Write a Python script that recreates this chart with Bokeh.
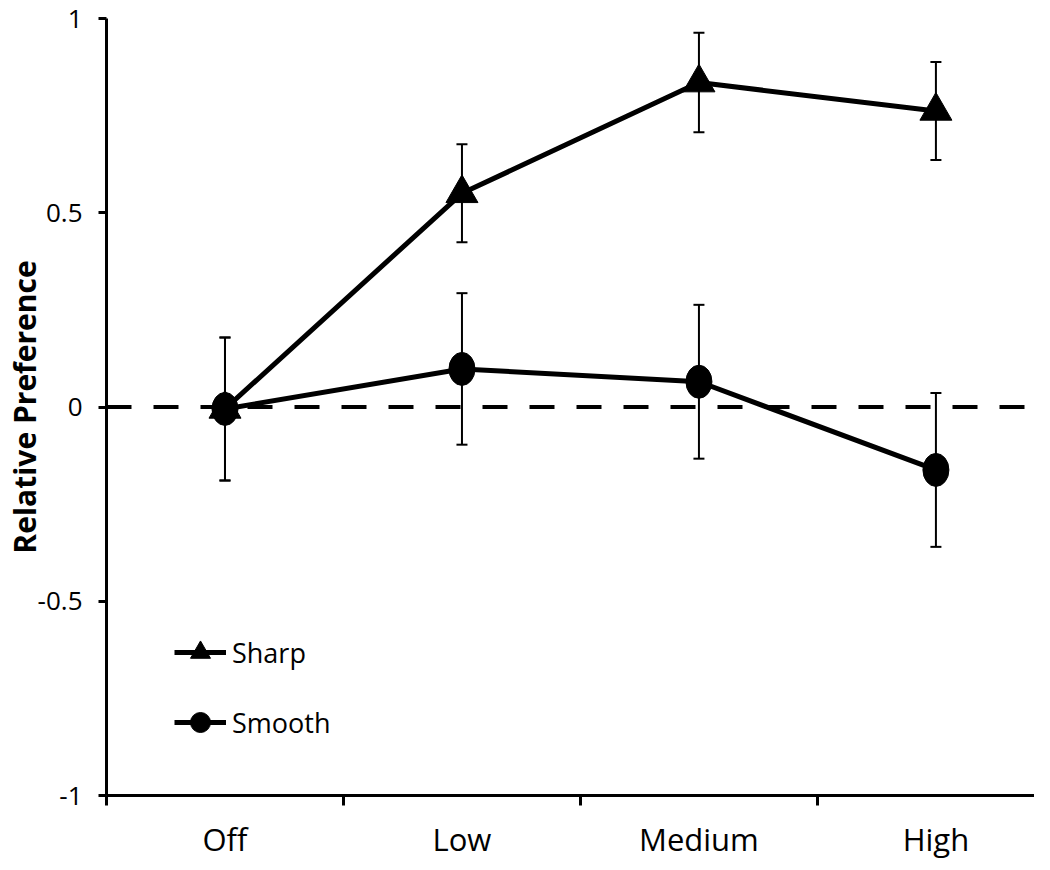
from bokeh.plotting import figure
from bokeh.models import (ColumnDataSource, Range1d, FixedTicker, NumeralTickFormatter,
                          CustomJSTickFormatter, Whisker, TeeHead, Span, Legend, LegendItem)
from bokeh.embed import file_html
from bokeh.resources import INLINE

categories = ["Off", "Low", "Medium", "High"]
sharp_mean = [-0.005, 0.55, 0.835, 0.762]
sharp_err = [0.184, 0.126, 0.128, 0.126]
smooth_mean = [-0.005, 0.098, 0.065, -0.162]
smooth_err = [0.184, 0.195, 0.198, 0.198]
y_ticks = [-1, -0.5, 0, 0.5, 1]

FONT = "Open Sans"
x_pos = [i + 0.5 for i in range(len(categories))]
x_bounds = [float(i) for i in range(len(categories) + 1)]

p = figure(width=1034, height=862, x_range=Range1d(0, 3.916), y_range=Range1d(-1, 1),
           output_backend="svg", toolbar_location=None,
           min_border_left=106, min_border_right=0, min_border_top=18, min_border_bottom=67)
p.xgrid.visible = False
p.ygrid.visible = False
p.outline_line_color = None
p.background_fill_color = "white"

# x axis
xa = p.xaxis[0]
xa.ticker = FixedTicker(ticks=x_pos, minor_ticks=x_bounds)
xa.formatter = CustomJSTickFormatter(args=dict(cats=categories),
                                     code="return cats[Math.floor(tick)];")
xa.axis_line_width = 3
xa.axis_line_color = "black"
xa.major_tick_line_color = None
xa.major_tick_out = 0
xa.major_tick_in = 0
xa.minor_tick_line_color = "black"
xa.minor_tick_line_width = 3
xa.minor_tick_out = 10
xa.minor_tick_in = 0
xa.major_label_standoff = 12
xa.major_label_text_font = FONT
xa.major_label_text_font_size = "31px"
xa.major_label_text_color = "black"

# y axis
ya = p.yaxis[0]
ya.ticker = FixedTicker(ticks=y_ticks, minor_ticks=[])
ya.formatter = NumeralTickFormatter(format="0.[0]")
ya.axis_line_width = 3
ya.axis_line_color = "black"
ya.major_tick_line_width = 3
ya.major_tick_line_color = "black"
ya.major_tick_out = 8
ya.major_tick_in = 0
ya.minor_tick_line_color = None
ya.major_label_standoff = 16
ya.major_label_text_font = FONT
ya.major_label_text_font_size = "26px"
ya.major_label_text_color = "black"
ya.axis_label = "Relative Preference"
ya.axis_label_text_font = FONT
ya.axis_label_text_font_style = "bold"
ya.axis_label_text_font_size = "30px"
ya.axis_label_text_color = "black"
ya.axis_label_standoff = -10

# zero line
p.add_layout(Span(location=0, dimension="width", line_color="black",
                  line_width=4, line_dash="25 22"))

sharp_src = ColumnDataSource(dict(
    x=x_pos, y=sharp_mean,
    upper=[m + e for m, e in zip(sharp_mean, sharp_err)],
    lower=[m - e for m, e in zip(sharp_mean, sharp_err)]))
smooth_src = ColumnDataSource(dict(
    x=x_pos, y=smooth_mean,
    upper=[m + e for m, e in zip(smooth_mean, smooth_err)],
    lower=[m - e for m, e in zip(smooth_mean, smooth_err)]))

for src in (sharp_src, smooth_src):
    p.add_layout(Whisker(source=src, base="x", upper="upper", lower="lower",
                         line_width=2, line_color="black",
                         upper_head=TeeHead(size=11, line_width=2, line_color="black"),
                         lower_head=TeeHead(size=11, line_width=2, line_color="black")))

sharp_line = p.line("x", "y", source=sharp_src, line_width=5, line_color="black")
smooth_line = p.line("x", "y", source=smooth_src, line_width=5, line_color="black")
sharp_mark = p.scatter("x", "y", source=sharp_src, marker="triangle", size=32,
                       fill_color="black", line_color="black")
smooth_dot = p.scatter("x", "y", source=smooth_src, marker="circle", size=24,
                       fill_color="black", line_color="black")
p.ellipse("x", "y", source=smooth_src, width=26, height=33,
          width_units="screen", height_units="screen",
          fill_color="black", line_color="black")

legend = Legend(items=[LegendItem(label="Sharp", renderers=[sharp_line, sharp_mark]),
                       LegendItem(label="Smooth", renderers=[smooth_line, smooth_dot])],
                location=(68, 48), orientation="vertical",
                glyph_width=52, glyph_height=50, spacing=20, padding=0, margin=0,
                label_standoff=6, label_text_font=FONT, label_text_font_size="27px",
                label_text_color="black",
                border_line_color=None, background_fill_alpha=0)
p.add_layout(legend)

open("out.html", "w").write(file_html(p, INLINE))
